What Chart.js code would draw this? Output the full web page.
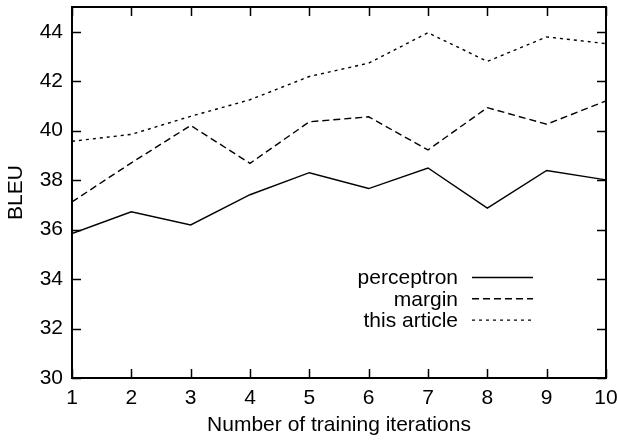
<!DOCTYPE html>
<html>
<head>
<meta charset="utf-8">
<script src="https://cdn.jsdelivr.net/npm/chart.js@4"></script>
<style>
  html, body { margin: 0; padding: 0; background: #fff; }
  #wrap { width: 617px; height: 443px; }
</style>
</head>
<body>
<div id="wrap"><canvas id="bleuChart"></canvas></div>
<script>
const iterations = [1, 2, 3, 4, 5, 6, 7, 8, 9, 10];
const perceptron = [35.84, 36.72, 36.19, 37.41, 38.30, 37.66, 38.49, 36.87, 38.39, 38.01];
const margin = [37.12, 38.70, 40.21, 38.68, 40.36, 40.56, 39.22, 40.93, 40.26, 41.20];
const thisArticle = [39.57, 39.85, 40.58, 41.25, 42.19, 42.73, 43.96, 42.80, 43.79, 43.52];
const seriesNames = ['perceptron', 'margin', 'this article'];

const FONT = "'Liberation Sans', Arial, Helvetica, sans-serif";

// gnuplot-like frame: border on all four sides plus inward ticks
const framePlugin = {
    id: 'frame',
    afterDraw(chart) {
        const ctx = chart.ctx;
        const a = chart.chartArea;
        const xs = chart.scales.x, ys = chart.scales.y;
        const len = 9;
        ctx.save();
        ctx.strokeStyle = '#000';
        ctx.lineWidth = 1.5;
        ctx.beginPath();
        xs.ticks.forEach(t => {
            const px = Math.round(xs.getPixelForValue(t.value)) + 0.5;
            ctx.moveTo(px, a.bottom); ctx.lineTo(px, a.bottom - len);
            ctx.moveTo(px, a.top); ctx.lineTo(px, a.top + len);
        });
        ys.ticks.forEach(t => {
            const py = Math.round(ys.getPixelForValue(t.value)) + 0.5;
            ctx.moveTo(a.left, py); ctx.lineTo(a.left + len, py);
            ctx.moveTo(a.right, py); ctx.lineTo(a.right - len, py);
        });
        ctx.stroke();
        ctx.lineWidth = 2;
        ctx.strokeRect(a.left, a.top, a.right - a.left, a.bottom - a.top);
        ctx.restore();
    }
};

// legend inside the plot, text right aligned and a line sample after it
const keyPlugin = {
    id: 'key',
    afterDraw(chart) {
        const ctx = chart.ctx;
        const textRight = 458, lineStart = 472, lineEnd = 533;
        let y = 277.5;
        ctx.save();
        ctx.font = '21px ' + FONT;
        ctx.fillStyle = '#000';
        ctx.textAlign = 'right';
        ctx.textBaseline = 'middle';
        chart.data.datasets.forEach(ds => {
            ctx.fillText(ds.label, textRight, y + 1);
            ctx.strokeStyle = ds.borderColor;
            ctx.lineWidth = ds.borderWidth;
            ctx.setLineDash(ds.borderDash || []);
            ctx.beginPath();
            ctx.moveTo(lineStart, y);
            ctx.lineTo(lineEnd, y);
            ctx.stroke();
            y += 21.3;
        });
        ctx.restore();
    }
};

const toPoints = vals => vals.map((v, i) => ({ x: iterations[i], y: v }));

new Chart(document.getElementById('bleuChart').getContext('2d'), {
    type: 'line',
    data: {
        datasets: [
            { label: seriesNames[0], data: toPoints(perceptron), borderColor: '#000', borderWidth: 1.4, borderDash: [], pointRadius: 0, fill: false, tension: 0 },
            { label: seriesNames[1], data: toPoints(margin), borderColor: '#000', borderWidth: 1.4, borderDash: [7, 4], pointRadius: 0, fill: false, tension: 0 },
            { label: seriesNames[2], data: toPoints(thisArticle), borderColor: '#000', borderWidth: 1.4, borderDash: [3, 4], pointRadius: 0, fill: false, tension: 0 }
        ]
    },
    options: {
        responsive: true,
        maintainAspectRatio: false,
        animation: false,
        layout: { padding: { top: 7, right: 11, left: 0, bottom: 0 } },
        plugins: {
            legend: { display: false },
            tooltip: { enabled: false }
        },
        scales: {
            x: {
                type: 'linear',
                min: 1,
                max: 10,
                afterFit: s => { s.height = 65; s.paddingLeft = 0; s.paddingRight = 0; },
                grid: { display: false, drawTicks: false },
                border: { display: false },
                ticks: { stepSize: 1, padding: 8, color: '#000', font: { family: FONT, size: 21 } },
                title: { display: true, text: 'Number of training iterations', color: '#000', padding: { top: 0, bottom: 5 }, font: { family: FONT, size: 21 } }
            },
            y: {
                min: 30,
                max: 45,
                afterFit: s => { s.width = 72; s.paddingTop = 0; s.paddingBottom = 0; },
                grid: { display: false, drawTicks: false },
                border: { display: false },
                ticks: { stepSize: 2, includeBounds: false, padding: 9, color: '#000', font: { family: FONT, size: 21 } },
                title: { display: true, text: 'BLEU', color: '#000', padding: { top: 4, bottom: 0 }, font: { family: FONT, size: 21 } }
            }
        }
    },
    plugins: [framePlugin, keyPlugin]
});
</script>
</body>
</html>
